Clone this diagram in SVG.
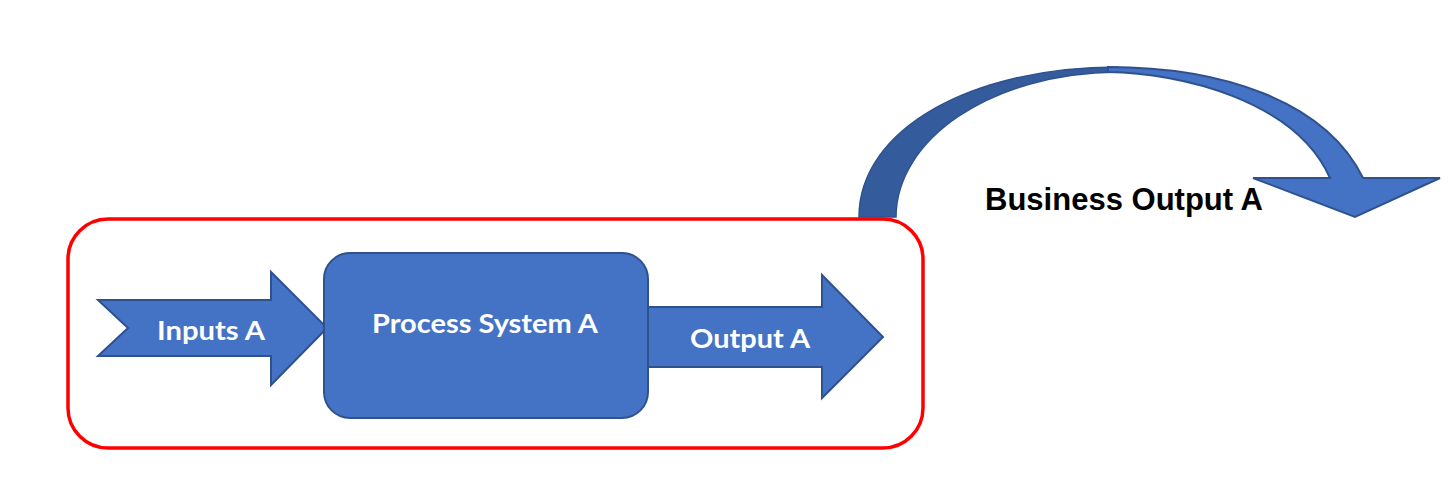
<svg xmlns="http://www.w3.org/2000/svg" width="1452" height="488" viewBox="0 0 1452 488">
<style>
.blue{fill:#4472C4;stroke:#2F528F;stroke-width:2;stroke-linejoin:miter}
.lbl{font-family:Lato,"Open Sans",sans-serif;font-weight:bold;fill:#FFFFFF;font-size:27px}
.biz{font-family:"Liberation Sans",Arial,sans-serif;font-weight:bold;fill:#000000;font-size:30.5px}
</style>
<rect width="1452" height="488" fill="#FFFFFF"/>
<g id="boundary">
<rect x="68" y="219" width="855" height="229" rx="40" ry="40" fill="none" stroke="#FF0000" stroke-width="3.5"/>
</g>
<g id="connectors">
<g id="business-arrow">
<path d="M 859 217 C 859 130 970 67 1118 67 L 1118 72 C 990 73 896 140 896 217 Z" fill="#345B9C" stroke="#2F528F" stroke-width="1.5"/>
<path d="M 1108 67 C 1220 67 1325 100 1363 178 L 1440 178 L 1355 217 L 1253 178 L 1330 178 C 1295 100 1180 73 1108 72 Z" class="blue" stroke-width="1.5"/>
</g>
</g>
<g id="inputs">
<polygon class="blue" points="98,300 271,300 271,272 327,328 271,385 271,356 98,356 128,328"/>
<text class="lbl" x="211" y="340" text-anchor="middle" textLength="108" lengthAdjust="spacingAndGlyphs">Inputs A</text>
</g>
<g id="output">
<polygon class="blue" points="646,307 822,307 822,275 883,337 822,398 822,367 646,367"/>
<text class="lbl" x="750" y="348" text-anchor="middle" textLength="120" lengthAdjust="spacingAndGlyphs">Output A</text>
</g>
<g id="process">
<rect class="blue" x="324" y="253" width="324" height="165" rx="26" ry="26"/>
<text class="lbl" x="485" y="333" text-anchor="middle" textLength="226" lengthAdjust="spacingAndGlyphs">Process System A</text>
</g>
<g id="business-label">
<text class="biz" x="985" y="210" textLength="278" lengthAdjust="spacingAndGlyphs">Business Output A</text>
</g>
</svg>
